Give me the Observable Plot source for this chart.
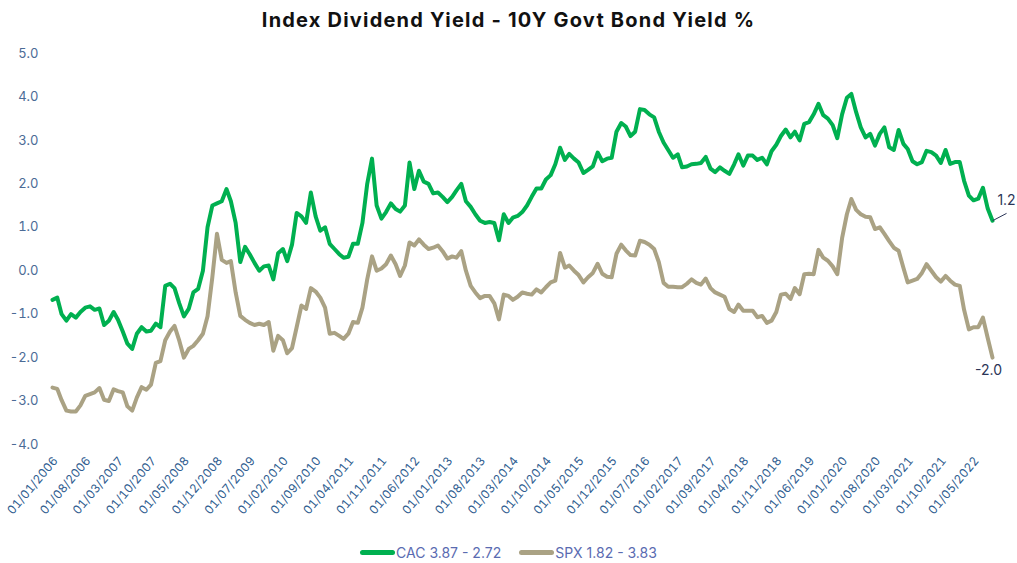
<!DOCTYPE html>
<html>
<head>
<meta charset="utf-8">
<script src="https://cdn.jsdelivr.net/npm/d3@7"></script>
<script src="https://cdn.jsdelivr.net/npm/@observablehq/plot@0.6"></script>
<style>
  html, body { margin: 0; padding: 0; background: #fff; }
  body { width: 1017px; height: 563px; overflow: hidden; font-family: Inter, "Open Sans", sans-serif; }
  #title { height: 40px; line-height: 41px; text-align: center; font-weight: 700; font-size: 20px; letter-spacing: 1.2px; color: #111; }
  #legend { position: absolute; top: 541px; left: 0; width: 1017px; text-align: center; font-size: 14px; color: #5a6bb1; }
  .item { display: inline-flex; align-items: center; margin: 0 9px; }
  .sw { display: inline-block; width: 35px; height: 5px; border-radius: 3px; margin-right: 1px; }
</style>
</head>
<body>
<div id="title">Index Dividend Yield - 10Y Govt Bond Yield %</div>
<div id="chart"></div>
<div id="legend"></div>
<script>
const startMonth = "2006-01-01";
const seriesNames = ["CAC 3.87 - 2.72", "SPX 1.82 - 3.83"];
const seriesColors = ["#00b050", "#aaa284"];
const cac = [-0.67,-0.62,-1.0,-1.15,-1.0,-1.08,-0.95,-0.85,-0.82,-0.9,-0.87,-1.25,-1.15,-0.95,-1.13,-1.4,-1.68,-1.8,-1.45,-1.3,-1.4,-1.38,-1.22,-1.3,-0.35,-0.3,-0.4,-0.75,-1.05,-0.88,-0.5,-0.42,0.0,1.0,1.5,1.55,1.6,1.88,1.6,1.1,0.2,0.55,0.38,0.18,0.0,0.1,0.12,-0.2,0.4,0.5,0.22,0.6,1.33,1.25,1.1,1.8,1.25,0.92,1.0,0.62,0.5,0.38,0.3,0.32,0.62,0.62,1.1,2.0,2.58,1.5,1.2,1.35,1.55,1.42,1.36,1.5,2.49,1.88,2.3,2.05,2.0,1.78,1.8,1.7,1.58,1.7,1.85,2.0,1.6,1.47,1.3,1.15,1.1,1.12,1.1,0.7,1.3,1.1,1.22,1.26,1.35,1.5,1.7,1.89,1.89,2.1,2.2,2.45,2.83,2.55,2.69,2.58,2.49,2.25,2.32,2.4,2.72,2.52,2.58,2.6,3.2,3.4,3.32,3.1,3.2,3.72,3.7,3.6,3.53,3.2,2.95,2.78,2.6,2.68,2.38,2.4,2.45,2.46,2.48,2.62,2.35,2.27,2.38,2.3,2.23,2.45,2.68,2.42,2.65,2.65,2.55,2.6,2.45,2.75,2.9,3.1,3.25,3.07,3.2,3.0,3.38,3.42,3.6,3.84,3.58,3.5,3.35,3.05,3.6,3.98,4.07,3.65,3.3,3.07,3.15,2.88,3.15,3.3,2.84,2.78,3.24,2.92,2.8,2.52,2.45,2.5,2.76,2.73,2.65,2.48,2.78,2.46,2.5,2.5,2.07,1.73,1.62,1.66,1.91,1.43,1.15];
const spx = [-2.69,-2.72,-2.98,-3.22,-3.24,-3.24,-3.1,-2.88,-2.84,-2.8,-2.7,-2.97,-3.0,-2.73,-2.77,-2.8,-3.12,-3.22,-2.92,-2.68,-2.74,-2.62,-2.12,-2.08,-1.6,-1.4,-1.27,-1.61,-2.0,-1.8,-1.73,-1.6,-1.45,-1.05,-0.15,0.85,0.25,0.18,0.22,-0.5,-1.04,-1.13,-1.2,-1.25,-1.22,-1.25,-1.18,-1.84,-1.5,-1.6,-1.9,-1.78,-1.3,-0.8,-0.88,-0.4,-0.48,-0.62,-0.85,-1.45,-1.43,-1.5,-1.57,-1.45,-1.18,-1.2,-0.85,-0.2,0.33,0.0,0.05,0.15,0.35,0.15,-0.12,0.12,0.65,0.58,0.72,0.6,0.5,0.53,0.58,0.45,0.28,0.33,0.3,0.45,0.0,-0.35,-0.5,-0.63,-0.58,-0.58,-0.75,-1.12,-0.55,-0.58,-0.67,-0.6,-0.5,-0.53,-0.55,-0.43,-0.5,-0.38,-0.27,-0.23,0.41,0.07,0.12,0.0,-0.1,-0.27,-0.15,-0.05,0.16,-0.07,-0.14,-0.15,0.39,0.6,0.47,0.36,0.35,0.69,0.66,0.6,0.5,0.2,-0.28,-0.37,-0.37,-0.38,-0.38,-0.3,-0.2,-0.28,-0.32,-0.18,-0.4,-0.5,-0.55,-0.6,-0.88,-0.95,-0.78,-0.92,-0.92,-0.92,-1.07,-1.04,-1.2,-1.15,-0.95,-0.55,-0.53,-0.65,-0.4,-0.54,-0.08,-0.07,-0.08,0.48,0.3,0.23,0.1,-0.08,0.75,1.3,1.65,1.4,1.3,1.24,1.23,0.96,1.0,0.85,0.68,0.53,0.46,0.07,-0.27,-0.23,-0.19,-0.05,0.15,0.0,-0.15,-0.25,-0.12,-0.23,-0.32,-0.35,-0.9,-1.35,-1.3,-1.3,-1.08,-1.55,-2.0];
const xTickLabels = ["01/01/2006","01/08/2006","01/03/2007","01/10/2007","01/05/2008","01/12/2008","01/07/2009","01/02/2010","01/09/2010","01/04/2011","01/11/2011","01/06/2012","01/01/2013","01/08/2013","01/03/2014","01/10/2014","01/05/2015","01/12/2015","01/07/2016","01/02/2017","01/09/2017","01/04/2018","01/11/2018","01/06/2019","01/01/2020","01/08/2020","01/03/2021","01/10/2021","01/05/2022"];
const yTicks = [-4, -3, -2, -1, 0, 1, 2, 3, 4, 5];

const start = new Date(startMonth + "T00:00:00Z");
const parseLabel = s => { const [dd, mm, yy] = s.split("/"); return new Date(Date.UTC(+yy, +mm - 1, +dd)); };
const xTicks = xTickLabels.map(parseLabel);
const fmtLabel = d => "01/" + String(d.getUTCMonth() + 1).padStart(2, "0") + "/" + d.getUTCFullYear();
const fmt1 = v => (v + (v >= 0 ? 1e-9 : -1e-9)).toFixed(1);

const rows = [];
[cac, spx].forEach((vals, s) => vals.forEach((v, i) => rows.push({date: d3.utcMonth.offset(start, i), value: v, series: seriesNames[s]})));
const lastDate = d3.utcMonth.offset(start, cac.length - 1);
const lastCac = cac[cac.length - 1], lastSpx = spx[spx.length - 1];

const chart = Plot.plot({
  width: 1017,
  height: 495,
  marginLeft: 52,
  marginRight: 25,
  marginTop: 13,
  marginBottom: 91,
  style: {fontFamily: "Inter, 'Open Sans', sans-serif", fontSize: "12.5px", background: "white"},
  x: {type: "utc", domain: [start, lastDate]},
  y: {domain: [-4, 5]},
  color: {domain: seriesNames, range: seriesColors},
  marks: [
    Plot.axisY({ticks: yTicks, tickFormat: d => d.toFixed(1), tickSize: 0, tickPadding: 14, color: "#4b6b96", fontSize: 13, label: null}),
    Plot.axisX({ticks: xTicks, tickFormat: fmtLabel, tickSize: 0, tickPadding: 14, dx: 3, tickRotate: -50, color: "#2f5d90", fontSize: 12, label: null}),
    Plot.line(rows, {x: "date", y: "value", z: "series", stroke: "series", strokeWidth: 4, strokeLinejoin: "round", strokeLinecap: "round"}),
    Plot.link([0], {x1: () => lastDate, y1: () => lastCac, x2: () => d3.utcMonth.offset(lastDate, 3), y2: () => lastCac + 0.17, stroke: "#2b3557", strokeWidth: 1}),
    Plot.text([lastCac], {x: () => lastDate, y: d => d, text: fmt1, dx: 14, dy: -20, fill: "#2b3557", fontSize: 14}),
    Plot.text([lastSpx], {x: () => lastDate, y: d => d, text: fmt1, dx: -4, dy: 13, fill: "#2b3557", fontSize: 14})
  ]
});
document.getElementById("chart").appendChild(chart);

const legend = document.getElementById("legend");
seriesNames.forEach((n, i) => {
  const it = document.createElement("span");
  it.className = "item";
  it.innerHTML = `<span class="sw" style="background:${seriesColors[i]}"></span>${n}`;
  legend.appendChild(it);
});
</script>
</body>
</html>
